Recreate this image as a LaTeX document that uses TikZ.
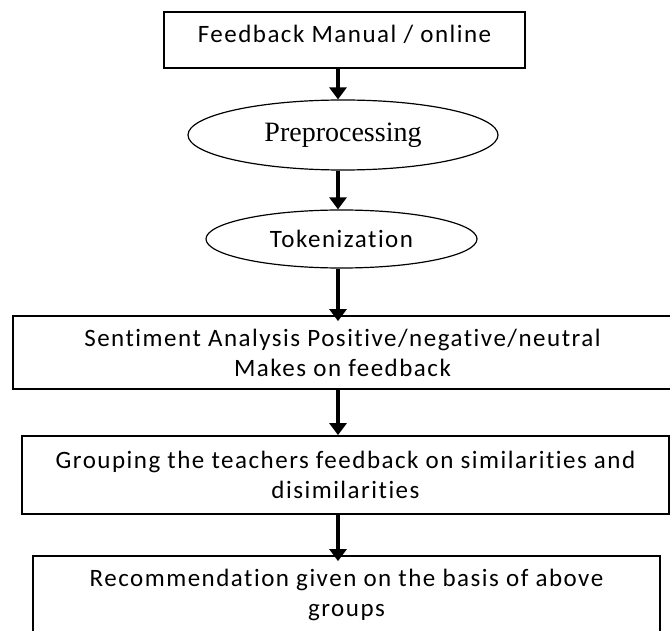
\documentclass[tikz,border=0pt]{standalone}
\usepackage{fontspec}
\usetikzlibrary{shapes.geometric,arrows.meta}
\newfontfamily\boxfont[LetterSpace=6,Ligatures=NoCommon]{Carlito}
\newfontfamily\ovalfont{Liberation Serif}

\begin{document}
\begin{tikzpicture}[x=1pt,y=-1pt,
    stage/.style={draw, line width=1.8pt, rectangle, align=center, inner sep=0pt,
      font=\boxfont\fontsize{25}{30}\selectfont},
    oval/.style={draw, line width=1.2pt, ellipse, inner sep=0pt},
    flow/.style={line width=4.5pt, -{Triangle[width=17pt,length=12pt]}}]
		\clip (0,0) rectangle (670,631);
		\coordinate (spine) at (338,0);
		\node[stage, minimum width=361pt, minimum height=56pt, text depth=12pt] (input) at (344.5,40) {Feedback Manual / online};
		\node[oval, minimum width=310pt, minimum height=70pt, font=\ovalfont\fontsize{28}{32}\selectfont] (prep) at (343,135) {Preprocessing};
		\node[oval, minimum width=271pt, minimum height=58pt, font=\boxfont\fontsize{25}{30}\selectfont] (token) at (341.5,239) {Tokenization};
		\node[stage, minimum width=659pt, minimum height=73pt] (senti) at (342.5,352.5) {Sentiment Analysis Positive/negative/neutral\\Makes on feedback};
		\node[stage, minimum width=647pt, minimum height=78pt] (group) at (345.5,475) {Grouping the teachers feedback on similarities and\\disimilarities};
		\node[stage, minimum width=627pt, minimum height=78pt] (recom) at (346.5,595) {Recommendation given on the basis of above\\groups};
		% arrows down the middle
		\draw[flow] (input.south -| spine) -- (prep.north -| spine);
		\draw[flow] (prep.south -| spine) -- (token.north -| spine);
		\draw[flow, shorten >=-6pt] (token.south -| spine) -- (senti.north -| spine);
		\draw[flow] (senti.south -| spine) -- (group.north -| spine);
		\draw[flow, shorten >=-6pt] (group.south -| spine) -- (recom.north -| spine);
\end{tikzpicture}
\end{document}
